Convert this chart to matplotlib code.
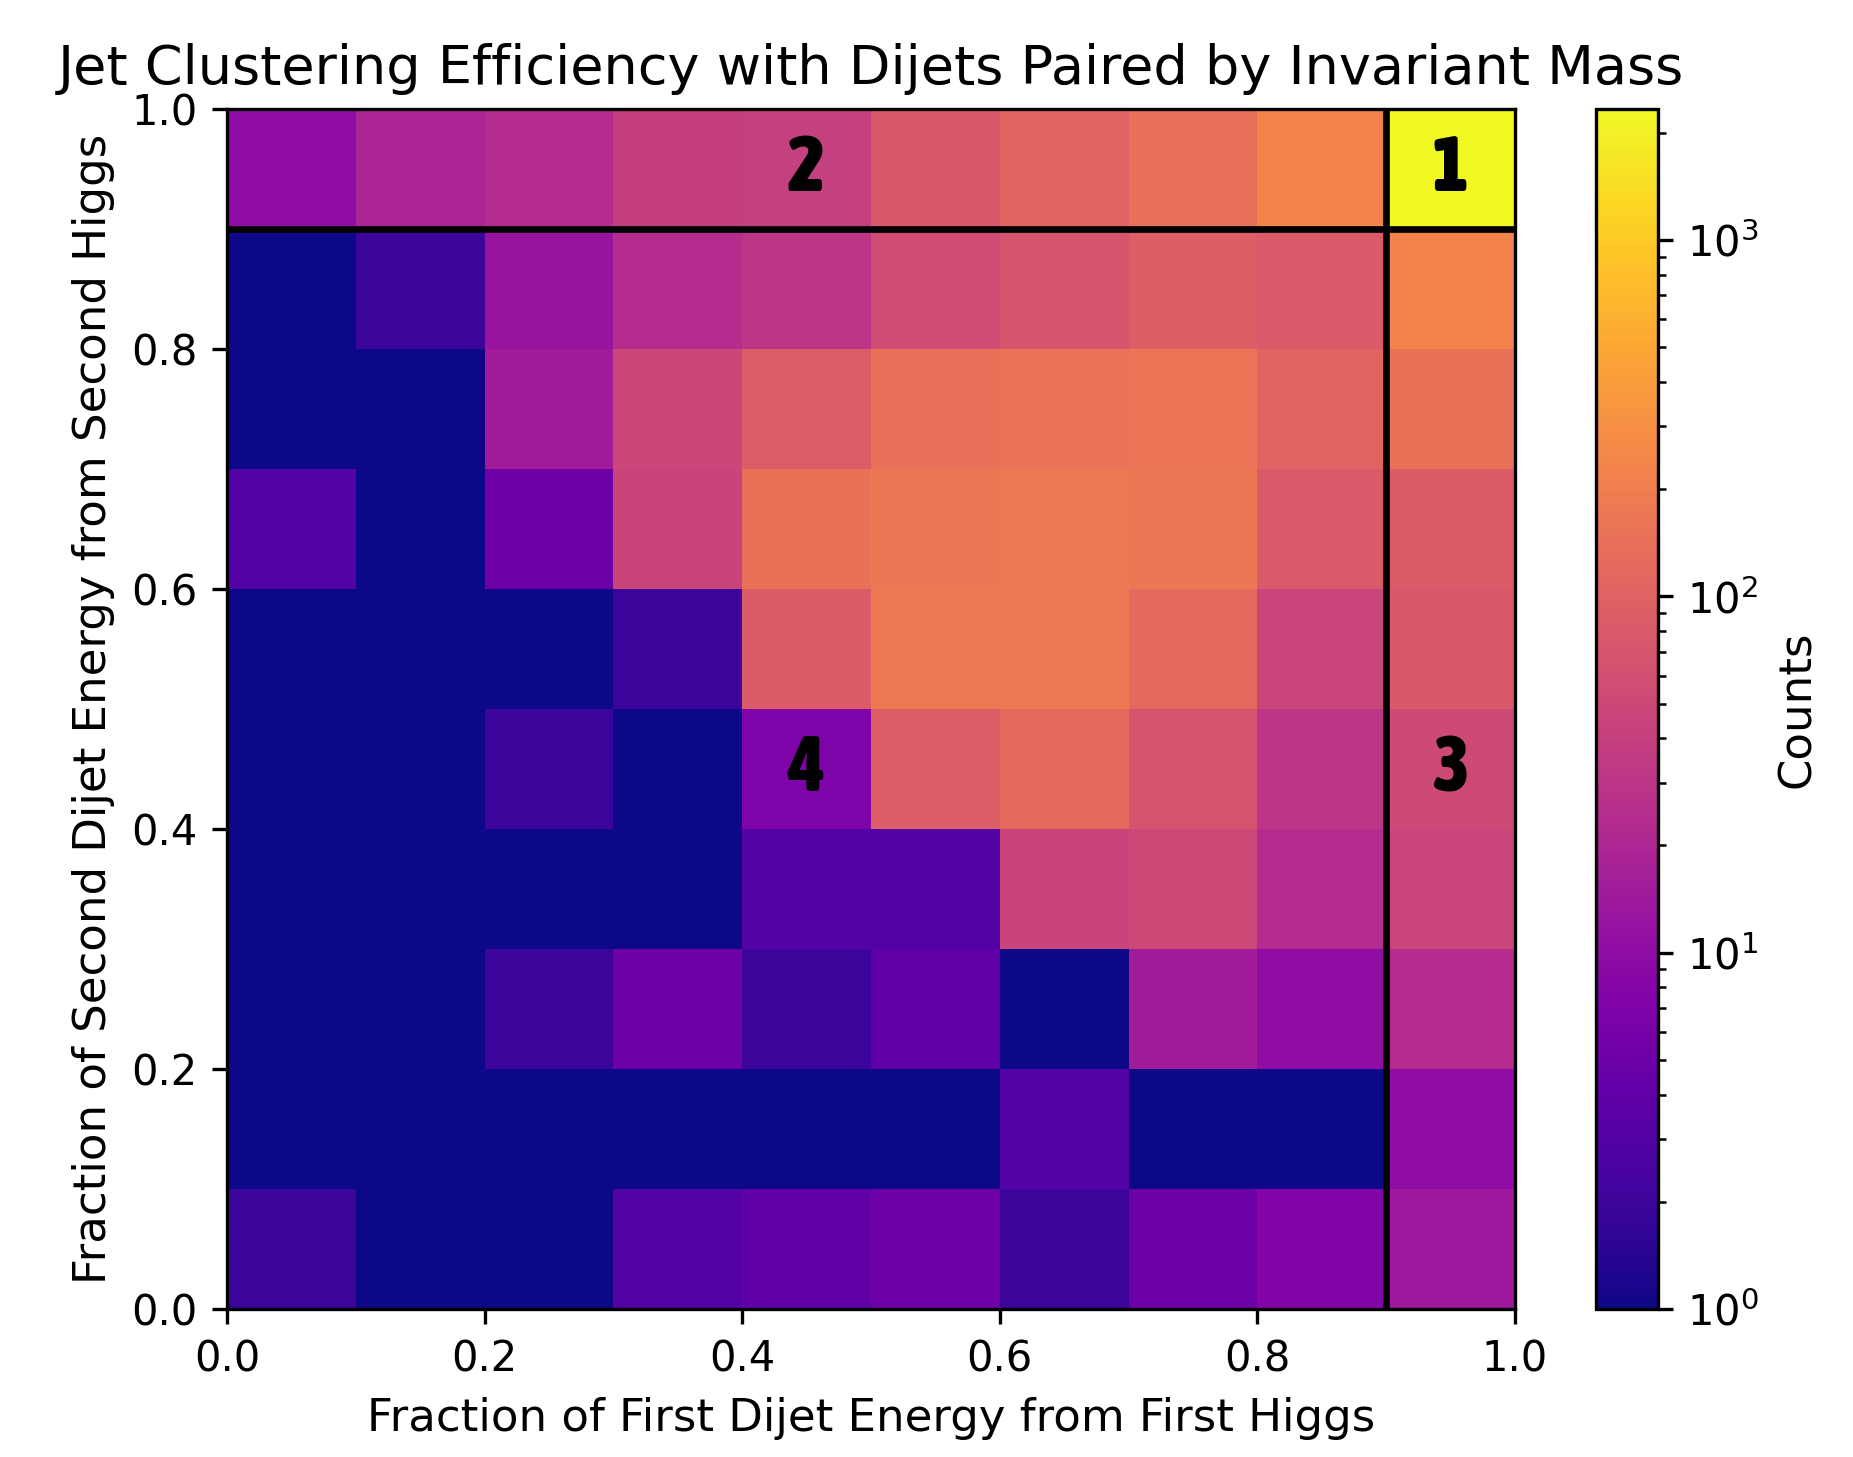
import numpy as np
import matplotlib
matplotlib.use("Agg")
import matplotlib.pyplot as plt
from matplotlib.colors import LogNorm
from matplotlib import font_manager

# Bin edges
x_edges = [0.0, 0.1, 0.2, 0.3, 0.4, 0.5, 0.6, 0.7, 0.8, 0.9, 1.0]
y_edges = [0.0, 0.1, 0.2, 0.3, 0.4, 0.5, 0.6, 0.7, 0.8, 0.9, 1.0]

# Counts per bin, rows from bottom (y 0.0-0.1) to top (y 0.9-1.0)
row0 = [2, 1, 1, 3, 4, 5, 2, 5, 8, 14]
row1 = [1, 1, 1, 1, 1, 1, 3, 1, 1, 10]
row2 = [1, 1, 2, 5, 2, 4, 1, 15, 10, 24]
row3 = [1, 1, 1, 1, 3, 3, 45, 50, 24, 46]
row4 = [1, 1, 2, 1, 7, 88, 120, 66, 30, 52]
row5 = [1, 1, 1, 2, 85, 175, 175, 122, 46, 77]
row6 = [3, 1, 5, 45, 145, 168, 180, 168, 80, 85]
row7 = [1, 1, 15, 48, 86, 143, 150, 160, 105, 145]
row8 = [1, 2, 12, 24, 30, 56, 71, 90, 80, 229]
row9 = [10, 19, 24, 38, 40, 77, 105, 143, 229, 2335]
counts = np.array([row0, row1, row2, row3, row4, row5, row6, row7, row8, row9])

region_labels = ["1", "2", "3", "4"]
region_x = [0.95, 0.45, 0.95, 0.45]
region_y = [0.95, 0.95, 0.45, 0.45]


def pick_condensed_bold():
    best = None
    for f in font_manager.fontManager.ttflist:
        name = f.name.lower()
        stretch = str(f.stretch).lower()
        is_narrow = ("narrow" in name or "condensed" in name or "impact" in name
                     or "condensed" in stretch or "narrow" in stretch)
        try:
            w = int(f.weight)
        except Exception:
            w = 700 if "bold" in str(f.weight).lower() else 400
        if is_narrow and w >= 600 and f.fname.lower().endswith((".ttf", ".otf")):
            score = w + (1000 if "impact" in name else 0)
            if best is None or score > best[0]:
                best = (score, f.fname)
    if best is not None:
        return font_manager.FontProperties(fname=best[1], size=19)
    return font_manager.FontProperties(family="DejaVu Sans", weight="bold", size=17)


num_font = pick_condensed_bold()

W, H = 1853, 1457
fig = plt.figure(figsize=(W / 300, H / 300), dpi=300)
ax_left, ax_right, ax_top, ax_bottom = 227, 1515, 109, 1309
ax = fig.add_axes([ax_left / W, 1 - ax_bottom / H, (ax_right - ax_left) / W, (ax_bottom - ax_top) / H])
cax = fig.add_axes([1596 / W, 1 - ax_bottom / H, 62 / W, (ax_bottom - ax_top) / H])

mesh = ax.pcolormesh(x_edges, y_edges, counts, cmap="plasma",
                     norm=LogNorm(vmin=1, vmax=counts.max()))
cb = fig.colorbar(mesh, cax=cax)
cb.set_label("Counts", fontsize=10.8)

ax.axhline(0.9, color="black", lw=1.6)
ax.axvline(0.9, color="black", lw=1.6)

for lab, xx, yy in zip(region_labels, region_x, region_y):
    ax.text(xx, yy, lab, ha="center", va="center", fontproperties=num_font, color="black")

ax.set_xlim(0, 1)
ax.set_ylim(0, 1)
ax.set_title("Jet Clustering Efficiency with Dijets Paired by Invariant Mass", fontsize=13)
ax.set_xlabel("Fraction of First Dijet Energy from First Higgs", fontsize=10.8)
ax.set_ylabel("Fraction of Second Dijet Energy from Second Higgs", fontsize=10.8)

fig.savefig("out.png", dpi=300)
